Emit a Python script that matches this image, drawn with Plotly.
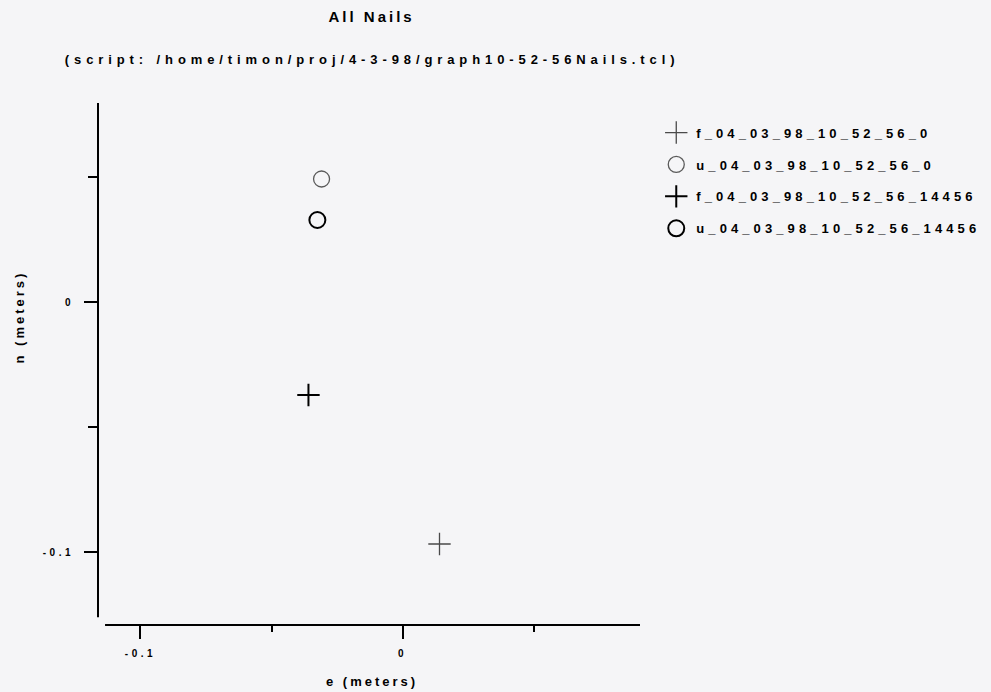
import plotly.graph_objects as go

# Nail positions, east / north offsets in meters
names = [
    "f_04_03_98_10_52_56_0",
    "u_04_03_98_10_52_56_0",
    "f_04_03_98_10_52_56_14456",
    "u_04_03_98_10_52_56_14456",
]
e_vals = [0.0141, -0.0309, -0.0359, -0.0325]
n_vals = [-0.0968, 0.0492, -0.0372, 0.0328]

x_tickvals = [-0.1, 0.0]
x_ticktext = ["-0.1", "0"]
y_tickvals = [0.0, -0.1]
y_ticktext = ["0", "-0.1"]

styles = [
    dict(symbol="cross-thin-open", color="#4a4a4a", width=1.3),
    dict(symbol="circle-open", color="#5a5a5a", width=1.3),
    dict(symbol="cross-thin-open", color="#000000", width=2),
    dict(symbol="circle-open", color="#000000", width=2),
]

BG = "#f5f5f7"
FONT = "Liberation Sans"

fig = go.Figure()
for i, nm in enumerate(names):
    st = styles[i]
    fig.add_trace(go.Scatter(
        x=[e_vals[i]], y=[n_vals[i]], mode="markers", name=nm,
        legendgroup=nm,
        marker=dict(symbol=st["symbol"], size=16, color=st["color"],
                    line=dict(color=st["color"], width=st["width"])),
    ))

axis_common = dict(
    showgrid=False, zeroline=False, showline=False,
    ticks="outside", tickcolor="black", tickwidth=2, ticklen=13,
    tickfont=dict(family=FONT, size=10, color="black", weight="bold"),
)

fig.update_layout(
    width=991, height=692,
    margin=dict(l=98, r=351, t=103, b=67),
    paper_bgcolor=BG, plot_bgcolor=BG,
    showlegend=True,
    legend=dict(x=1.03, y=0.972, xanchor="left", yanchor="top",
                bgcolor="rgba(0,0,0,0)", tracegroupgap=12,
                font=dict(family=FONT, size=13, color="black", weight="bold")),
    xaxis=dict(range=[-0.1162, 0.0906], tickmode="array",
               tickvals=x_tickvals, ticktext=x_ticktext,
               ticklabelstandoff=6,
               minor=dict(ticks="outside", dtick=0.05, tick0=0, ticklen=6,
                          tickwidth=2, tickcolor="black"),
               **axis_common),
    yaxis=dict(range=[-0.1292, 0.0796], tickmode="array",
               tickvals=y_tickvals, ticktext=y_ticktext,
               ticklabelstandoff=8,
               minor=dict(ticks="outside", dtick=0.05, tick0=0, ticklen=9,
                          tickwidth=2, tickcolor="black"),
               **axis_common),
    shapes=[
        dict(type="line", xref="paper", yref="paper", x0=0, x1=0,
             y0=0.015, y1=1, line=dict(color="black", width=2)),
        dict(type="line", xref="paper", yref="paper", x0=0.013, x1=1,
             y0=0, y1=0, line=dict(color="black", width=2)),
    ],
    annotations=[
        dict(text="All Nails", xref="paper", yref="paper", x=0.505, y=1.165,
             showarrow=False, xanchor="center", yanchor="middle",
             font=dict(family=FONT, size=15, color="black", weight="bold")),
        dict(text="(script: /home/timon/proj/4-3-98/graph10-52-56Nails.tcl)",
             xref="paper", yref="paper", x=0.505, y=1.083,
             showarrow=False, xanchor="center", yanchor="middle",
             font=dict(family=FONT, size=13, color="black", weight="bold")),
        dict(text="e (meters)", xref="paper", yref="paper", x=0.505, y=-0.108,
             showarrow=False, xanchor="center", yanchor="middle",
             font=dict(family=FONT, size=13, color="black", weight="bold")),
        dict(text="n (meters)", xref="paper", yref="paper", x=-0.145, y=0.59,
             showarrow=False, xanchor="center", yanchor="middle", textangle=-90,
             font=dict(family=FONT, size=13, color="black", weight="bold")),
    ],
)

# widen the tracking of all labels to the typewriter-like spacing
spacing_js = """
var gd = document.getElementById('{plot_id}');
function track() {
  gd.querySelectorAll('.legendtext').forEach(function(t){ t.style.letterSpacing = '4.1px'; });
  gd.querySelectorAll('.legend [clip-path], .legend .scrollbox').forEach(function(el){ el.removeAttribute('clip-path'); });
  gd.querySelectorAll('.xtick text, .ytick text').forEach(function(t){ t.style.letterSpacing = '3.5px'; });
  var ann = gd.querySelectorAll('.annotation-text');
  var sp = ['3px', '4.9px', '3px', '3px'];
  ann.forEach(function(t, i){ t.style.letterSpacing = sp[i] || '3px'; });
}
track();
gd.on('plotly_afterplot', track);
"""

fig.write_html("out.html", post_script=spacing_js)
